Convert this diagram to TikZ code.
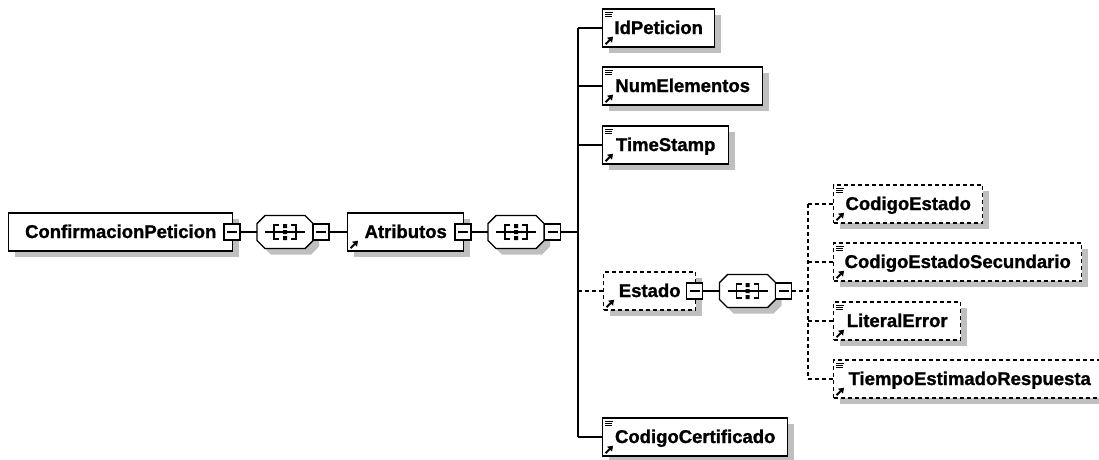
\documentclass[tikz,border=0pt]{standalone}
\usepackage{fontspec}
\setmainfont{Liberation Sans}[BoldFeatures={FakeBold=1.2}]
\usetikzlibrary{shadows}
\newcommand\seqdraw[1]{%
\begin{scope}[shift={(#1.center)}]
  \fill[black!25] (-14,-10.5)--(26,-10.5)--(34,-2.5)--(34,14.5)--(26,22.5)--(-14,22.5)--(-22,14.5)--(-22,-2.5)--cycle;
  \filldraw[fill=white, line width=1.4pt] (-20,-16.5)--(20,-16.5)--(28,-8.5)--(28,8.5)--(20,16.5)--(-20,16.5)--(-28,8.5)--(-28,-8.5)--cycle;
  \draw[line width=1.3pt] (-20,0)--(20,0);
  \draw[line width=1.3pt] (-6,-7)--(-11,-7)--(-11,7)--(-6,7);
  \draw[line width=1.3pt] (6,-7)--(11,-7)--(11,7)--(6,7);
  \fill (-2,-8) rectangle (2,-4) (-2,-2) rectangle (2,2) (-2,4) rectangle (2,8);
\end{scope}}
\newcommand\eqicon[1]{%
\begin{scope}[shift={(#1.north west)}]
  \draw[line width=1pt] (3,4)--(11,4) (3,6)--(10,6) (3,8)--(10,8);
\end{scope}}
\newcommand\refarrow[1]{%
\begin{scope}[shift={(#1.south west)}]
  \draw[line width=2pt] (3.5,-3.5)--(7.5,-7.5);
  \fill (11,-11)--(5,-10)--(10,-5)--cycle;
\end{scope}}
\begin{document}
\begin{tikzpicture}[x=1pt,y=-1pt,
  el/.style={draw, line width=1.4pt, fill=white, rectangle, anchor=west,
    minimum height=38pt, inner sep=0pt,
    font=\bfseries\fontsize{18.5}{20}\selectfont, text height=14pt, text depth=2pt,
    drop shadow={shadow xshift=6pt, shadow yshift=-6pt, fill=black!25, opacity=1}},
  opt/.style={dash pattern=on 4pt off 3pt},
  seqn/.style={rectangle, minimum width=56pt, minimum height=33pt, inner sep=0pt},
  mbox/.style={draw, fill=white, line width=1.4pt, minimum size=16pt, inner sep=0pt,
    path picture={\draw[line width=1.2pt] ([xshift=-5pt]path picture bounding box.center) -- ([xshift=5pt]path picture bounding box.center);}},
  conn/.style={line width=1.4pt}]
\useasboundingbox (0,0) rectangle (1099,459);
\fill[white] (0,0) rectangle (1099,459);
\clip (0,0) rectangle (1099,459);

% main row
\node[el, minimum width=224pt] (conf) at (8,232) {ConfirmacionPeticion\hspace{6pt}};
\node[mbox] (confm) at (232,232) {};
\node[seqn] (s1) at (285,232) {};
\seqdraw{s1}
\node[mbox] (s1m) at (321,232) {};
\node[el, minimum width=116pt] (atr) at (347,232) {Atributos\hspace{12pt}};
\refarrow{atr}
\node[mbox] (atrm) at (463,232) {};
\node[seqn] (s2) at (516,232) {};
\seqdraw{s2}
\node[mbox] (s2m) at (552.5,232) {};
\coordinate (bus1) at (578,232);

% children of Atributos
\node[el, minimum width=112pt] (idp) at (602,28) {IdPeticion};
\eqicon{idp}\refarrow{idp}
\node[el, minimum width=160pt] (num) at (602,86) {NumElementos};
\eqicon{num}\refarrow{num}
\node[el, minimum width=126pt] (ts) at (602,145) {TimeStamp};
\eqicon{ts}\refarrow{ts}
\node[el, opt, minimum width=92pt] (est) at (603,291) {Estado\hspace{8pt}};
\refarrow{est}
\node[mbox] (estm) at (694.5,291) {};
\node[seqn] (s3) at (747.5,291) {};
\seqdraw{s3}
\node[mbox] (s3m) at (783.5,291) {};
\coordinate (bus2) at (808,291);
\node[el, minimum width=185pt] (cc) at (602,437) {CodigoCertificado};
\eqicon{cc}\refarrow{cc}

% children of Estado
\node[el, opt, minimum width=149pt] (ce) at (833,204) {CodigoEstado};
\eqicon{ce}\refarrow{ce}
\node[el, opt, minimum width=248pt] (ces) at (833,262) {CodigoEstadoSecundario};
\eqicon{ces}\refarrow{ces}
\node[el, opt, minimum width=127pt] (le) at (833,321) {LiteralError};
\eqicon{le}\refarrow{le}
\node[el, opt, minimum width=272pt] (ter) at (833,379) {TiempoEstimadoRespuesta};
\eqicon{ter}\refarrow{ter}

% connectors
\draw[conn] (confm.east) -- (s1.west);
\draw[conn] (s1m.east) -- (atr.west);
\draw[conn] (atrm.east) -- (s2.west);
\draw[conn] (s2m.east) -- (bus1);
\draw[conn] (bus1 |- idp.west) -- (bus1 |- cc.west);
\foreach \n in {idp,num,ts,cc} \draw[conn] (bus1 |- \n.west) -- (\n.west);
\draw[conn,opt] (bus1 |- est.west) -- (est.west);
\draw[conn] (estm.east) -- (s3.west);
\draw[conn,opt] (s3m.east) -- (bus2);
\draw[conn,opt] (bus2 |- ce.west) -- (bus2 |- ter.west);
\foreach \n in {ce,ces,le,ter} \draw[conn,opt] (bus2 |- \n.west) -- (\n.west);
\end{tikzpicture}
\end{document}
